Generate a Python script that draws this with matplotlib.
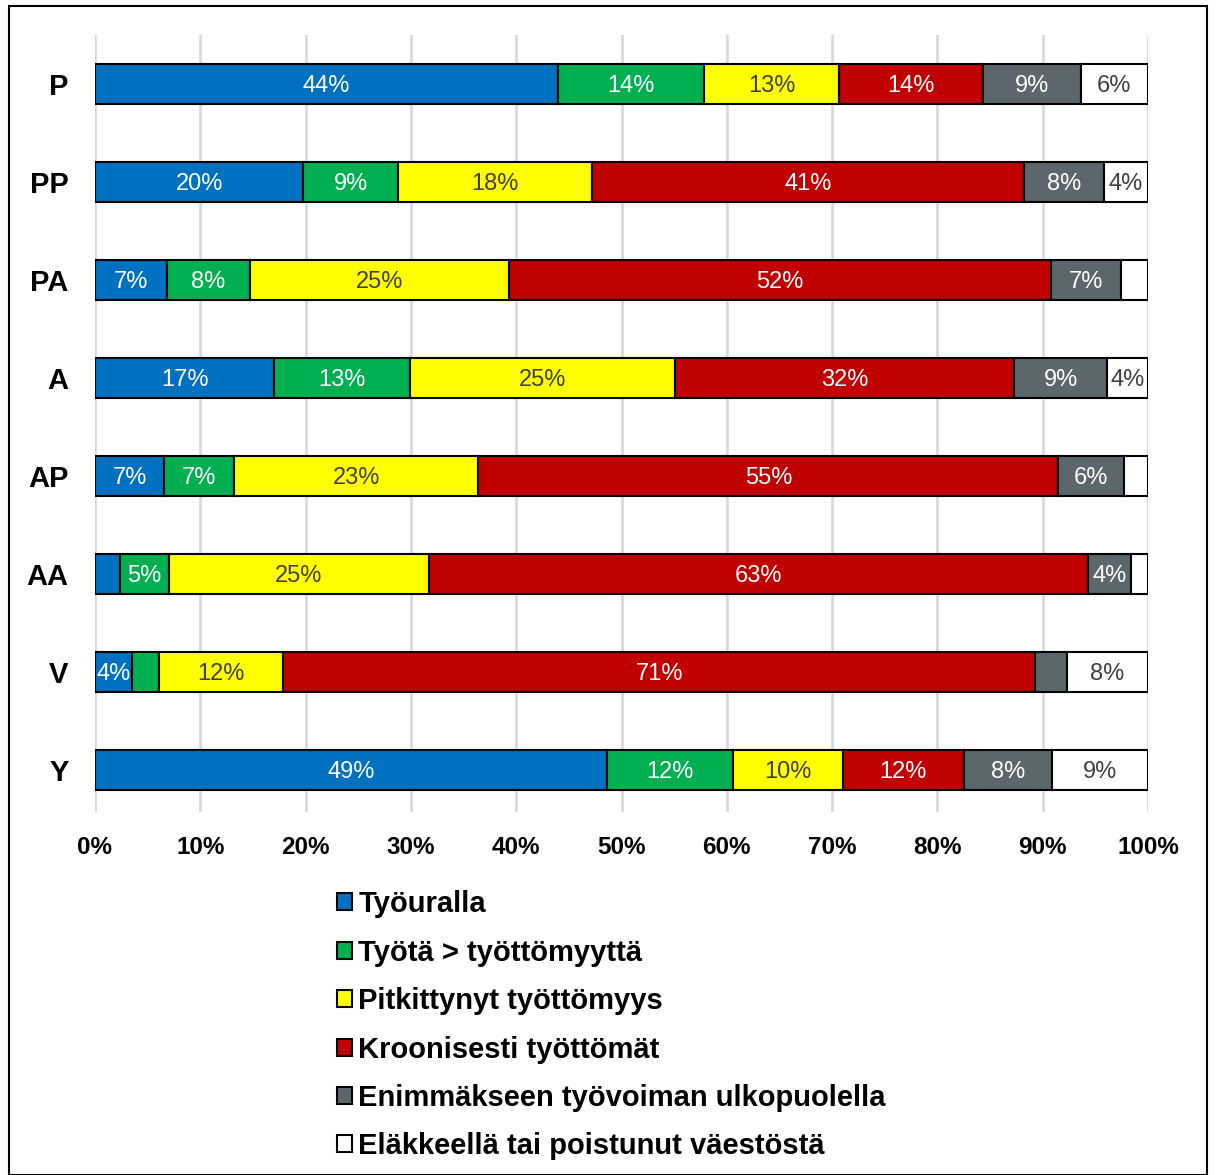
import matplotlib.pyplot as plt
from matplotlib.patches import Rectangle

plt.rcParams['font.family'] = ['Liberation Sans', 'DejaVu Sans']

groups = ['P', 'PP', 'PA', 'A', 'AP', 'AA', 'V', 'Y']
series = ['Työuralla', 'Työtä > työttömyyttä', 'Pitkittynyt työttömyys',
          'Kroonisesti työttömät', 'Enimmäkseen työvoiman ulkopuolella',
          'Eläkkeellä tai poistunut väestöstä']
tyouralla = [44.0, 19.8, 6.8, 17.0, 6.6, 2.4, 3.5, 48.6]
tyota = [13.8, 9.0, 7.9, 12.9, 6.6, 4.6, 2.6, 12.0]
pitkittynyt = [12.9, 18.4, 24.6, 25.2, 23.2, 24.7, 11.8, 10.4]
krooniset = [13.6, 41.0, 51.5, 32.2, 55.1, 62.6, 71.4, 11.5]
ulkopuolella = [9.3, 7.6, 6.6, 8.8, 6.2, 4.1, 3.0, 8.4]
elakkeella = [6.4, 4.2, 2.6, 3.9, 2.3, 1.6, 7.7, 9.1]

colors = ['#0070C0', '#00B050', '#FFFF00', '#C00000', '#5B676B', '#FFFFFF']
text_colors = ['white', 'white', '#404040', 'white', 'white', '#404040']

W, H = 1216, 1175
fig = plt.figure(figsize=(W / 100, H / 100), dpi=100)
ax = fig.add_axes([95 / W, 1 - 812 / H, (1148 - 95) / W, (812 - 35) / H])

data = [tyouralla, tyota, pitkittynyt, krooniset, ulkopuolella, elakkeella]
y = list(range(len(groups)))
left = [0.0] * len(groups)
for vals, name, c, tc in zip(data, series, colors, text_colors):
    bars = ax.barh(y, vals, left=left, height=0.41, color=c, edgecolor='black',
                   linewidth=1.5, label=name, zorder=3)
    for b, v, l in zip(bars, vals, left):
        if v >= 3.3:
            ax.text(l + v / 2, b.get_y() + b.get_height() / 2, f'{round(v)}%',
                    ha='center', va='center_baseline', color=tc, fontsize=17, zorder=4)
    left = [a + b for a, b in zip(left, vals)]

ax.set_xlim(0, 100)
ax.set_ylim(7.43, -0.5)
ax.set_yticks(y)
ax.set_yticklabels(groups, fontsize=21, fontweight='bold')
ax.set_xticks(range(0, 101, 10))
ax.set_xticklabels([f'{t}%' for t in range(0, 101, 10)], fontsize=17.5, fontweight='bold')
ax.tick_params(length=0, pad=17)
ax.tick_params(axis='y', pad=19)
for s in ax.spines.values():
    s.set_visible(False)
ax.grid(axis='x', color='#D9D9D9', linewidth=2, zorder=0)
ax.set_axisbelow(True)

fig.legend(loc='upper left', bbox_to_anchor=(311 / W, 1 - 864 / H), frameon=False,
           prop={'weight': 'bold', 'size': 21}, handlelength=0.52,
           handleheight=0.52, handletextpad=0.2, labelspacing=0.7)

fig.patches.append(Rectangle((9 / W, 0), 1198 / W, 1 - 6 / H, transform=fig.transFigure,
                             fill=False, edgecolor='black', linewidth=1.5))

fig.savefig('out.png', dpi=100)
